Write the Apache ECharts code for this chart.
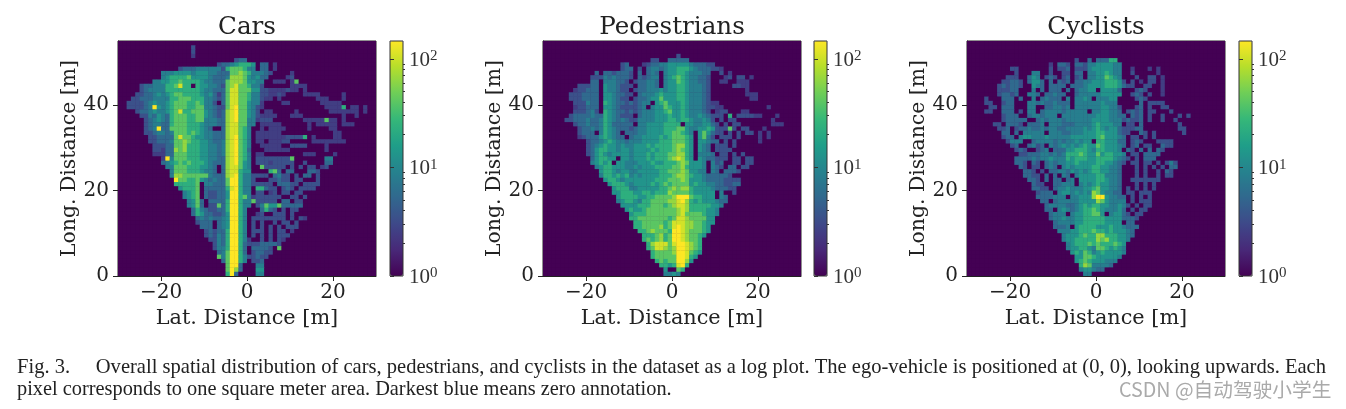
<!DOCTYPE html>
<html><head><meta charset="utf-8">
<style>html,body{margin:0;padding:0;background:#fff}#c{width:1346px;height:409px}</style>
<script src="https://cdn.jsdelivr.net/npm/echarts@6/dist/echarts.min.js"></script>
</head><body><div id="c"></div>
<script>
// Each row is one metre of longitudinal distance, top (54 m) to bottom (0 m).
// "col:levels": starting at lateral column col, one level character per cell ('.'=0 annotations).
const levelCounts = [1,1.5,2.5,3.5,5.5,8.5,13,23,40,65,105,146];
const latTicks = [-20,0,20];
const longTicks = [0,20,40];
const colorbarMajor = [1,10,100];
const colorbarMinor = [2,3,4,5,6,7,8,9,20,30,40,50,60,70,80,90];
const panelTitles = ["Cars","Pedestrians","Cyclists"];
const carsRows = [
"",
"17:3","17:3","17:2","27:344",
"23:344567776 33:44 36:2",
"14:3444555555 24:3445 25:78887 30:55 33:44 36:2",
"10:55566665666 21:5544 25:4 26:88987 31:55 33:543 40:2",
"10:5677778 17:66665 22:4445 26:99986 31:5 32:644 39:23",
"8:55 10:667787 16:77765 21:5444 25:8999866 32:55 36:222 40:2 41:8",
"5:34 7:45 9:55 11:7787 15:77 18:7665 22:54 24:3 25:89a8875 32:5 33:3 40:2222 14:a",
"5:345 8:55 10:5 11:77777 16:7776 20:55 22:44 24:4 25:8aa88866 33:33222 38:2322 43:2",
"4:3344 8:56 10:56 12:7887 16:7776 20:56 22:4 23:2 24:4 25:8aa88755 33:3322 37:32 43:2222 52:2",
"3:3 4:344 7:4 8:55 10:5 11:5 12:778 15:8877 19:75 21:54 23:3 24:4 25:8aa8875 32:5 33:322 37:2 46:222 52:2",
"2:33 4:33 6:45 8:65 10:5 11:6788 15:8778 19:75 21:5 22:3 23:. 24:4 25:8aa8865 32:5 33:2 38:22 47:22222",
"2:33 4:3 5:3 6:4 7:5 8:b 9:6 10:5 11:67 13:88 15:8778 19:85 21:54 23:3 24:3 25:8ab8865 32:3 33:2 48:22227 54:22 57:2",
"4:3 5:4 6:45 8:65 10:5 11:67 13:8 14:a 15:7788 19:86 21:54 23:3 24:4 25:9ab8865 32:3 34:22 41:2 49:2222 53:222 57:2",
"5:33 7:54 9:6 10:54 12:78 14:88 16:778 19:86 21:54 23:3 24:4 25:9ab8865 32:3 33:222 36:2 40:222 52:2 55:2",
"6:34 8:5 9:6 10:54 12:78 14:88 16:778 19:85 21:55 23:4 24:4 25:9ab8855 32:2 33:333 43:2222 47:2 48:8 49:2 50:2 52:2",
"6:34 8:55 10:44 12:78 14:88 16:7776 20:55 22:5 23:4 24:4 25:9aa8855 33:222 35:222 44:2 46:22 48:222 52:222",
"6:34 8:5 9:b 10:44 12:88 14:88 16:7776 20:5 21:4 24:4 25:9aa875 33:2 35:2222 44:2 49:22",
"6:334 9:55 11:45 13:88 15:878 18:765 21:5 22:4 23:4 24:4 25:9aa875 32:222222 50:22",
"7:33 9:44 11:4 12:4 13:88 14:a 15:887 18:665 21:54 23:44 25:9ab875 32:2222222 39:33337 45:2 50:22",
"7:33 9:4 10:4 11:4 12:5 13:889 16:877 19:66 21:5 22:4 23:45 25:9ab875 32:22 35:222 38:3 39:3 45:22222222",
"8:33 10:3 11:44 13:889 16:777 19:66 21:5 22:5 23:4 24:5 25:9ab875 33:22222 40:3333 48:2",
"8:33 10:2 11:44 13:989 16:7776 20:6 21:5 22:54 24:5 25:9ab874 34:222222 48:2",
"8:2 9:2 10:2 11:4 12:4 13:88 15:87 17:776 20:6 21:55 23:4 24:5 25:9ab875 32:22 43:2 44:22 50:2",
"10:2 11:b 12:5 13:88 15:87 17:776 20:65 22:5 23:4 24:4 25:9ab875 32:3333333 39:3 40:8 48:55",
"10:45 12:67 14:87 16:877 19:765 22:44 24:4 25:9ab865 32:3 33:33233 38:333 43:3 48:4 49:4",
"11:55 13:88 15:87 17:77 19:665 22:4 24:4 25:9aa865 33:8 34:3 35:3333 40:3 42:3 44:33 47:2 48:3",
"12:5 13:888 16:77 18:7 19:65 21:5 22:4 24:4 25:9aa766 35:78 37:4 39:44 44:4 45:4 46:3",
"12:5 13:99 15:88 17:8 18:8 19:88 21:5 22:4 23:4 24:4 25:9ab755 31:3 32:3 33:3 34:3 36:4 37:5 38:3 39:3 41:3 43:44 46:3",
"13:b 14:88 16:7 17:7 18:8 19:65 21:4 22:5 23:4 24:4 25:8bb755 31:3 35:3 36:3 37:4 38:3 39:3 41:33 46:3",
"13:77 15:7 16:7 17:7 18:8 20:5 21:5 22:4 23:4 24:4 25:8bb755 31:3 32:3 33:33 35:3 37:444 40:3 41:3 43:333 46:3",
"14:67 16:7 17:7 18:8 20:4 21:4 22:4 23:4 24:4 25:7ab755 32:77 34:4 35:3 36:3 38:34 40:3 42:3 43:333",
"15:56 17:7 18:8 20:4 21:3 22:3 23:4 24:4 25:6bb755 32:3 33:3 35:2 36:3 38:3 39:3 41:3 42:3",
"15:5 16:6 17:7 18:8 20:4 21:3 22:3 23:4 24:4 25:6bb755 29:8 31:2 32:33 34:333 36:3 37:3 40:3 41:3 43:3",
"16:5 17:6 18:8 19:4 21:4 22:4 23:4 24:4 25:7bb755 31:8 32:3 33:3 34:3 35:3 36:3 38:4 39:4 41:3 42:3",
"16:5 17:6 18:8 19:4 21:3 22:3 23:8 24:4 25:7bb755 32:3 33:5 34:8 35:6 36:6 37:8 38:4 39:44 41:4 42:4",
"17:4 18:7 19:5 20:4 21:3 22:3 23:4 24:4 25:7bb75 33:4 34:7 35:4 36:3 38:3 40:3 41:3",
"17:4 18:7 19:6 20:4 21:4 22:3 23:3 24:4 25:6bb75 32:2 33:3 36:3 37:3 38:3 40:3",
"18:4 19:5 20:4 21:5 22:4 23:4 24:5 25:6bb75 31:3 32:3 33:3 34:3 35:3 36:3 37:3 38:3 40:3 42:3 43:2",
"18:3 19:4 20:4 21:4 23:4 24:5 25:6bb75 31:3 33:3 36:3 38:3 39:3 41:3",
"19:4 20:4 21:4 23:4 24:5 25:6bb75 31:3 33:3 35:3 37:3 39:3 40:3 41:3",
"20:3 21:4 22:3 23:4 24:4 25:7bb75 31:3 32:3 33:3 35:3 37:3 38:3 40:2",
"20:3 21:4 22:3 23:5 24:4 25:7bb75 31:3 33:3 35:3 37:3 38:3 39:3",
"21:3 22:3 23:5 24:4 25:7bb75 30:2 33:3 35:3 37:3 38:2",
"22:3 23:5 24:4 25:7bb74 30:3 31:3 32:3 33:4 34:4 35:4 36:4 37:3",
"22:3 23:5 24:5 25:7bb74 31:4 32:4 33:4 34:4 35:3 37:8",
"23:4 24:5 25:8bb74 31:3 32:4 33:4 34:3 35:3",
"23:8 24:5 25:8bb75 30:3 31:3 32:4 33:3 34:3",
"24:4 25:8bb75 31:3 32:3 33:4",
"25:8bb4 32:5 33:5",
"25:8b94 32:66",
"25:7b 27:4 32:55"
];
const pedestriansRows = [
"","","",
"31:3",
"25:33 29:44444",
"18:34 23:23445566666544433",
"18:344 22:3 24:45 26:5 27:4 28:5 29:66777 34:6 35:5 36:4 37:4 38:4 39:3 40:3 41:2",
"12:4 14:44 16:34 18:44 20:3 22:4 24:4 25:5 26:4 28:5 29:6 30:6 31:7 32:7 33:6 34:5 35:5 36:5 37:4 38:4 41:3 43:2",
"11:33 13:3 14:5 15:4 16:5 17:44 19:4 20:3 22:4 23:3 24:4 25:5 26:5 28:5 29:6 30:7 31:8 32:7 33:6 34:5 35:5 36:4 37:4 38:3 42:23 45:33 48:2",
"11:44 14:5 15:5 16:5 17:4 18:4 19:3 21:3 22:4 23:4 24:5 25:5 26:4 28:5 29:6 30:6 31:8 32:7 33:6 34:5 35:5 36:4 37:4 38:3 41:2 42:2 45:2 46:2 47:2",
"8:3 9:3 10:3 11:4 12:4 14:6 15:5 16:5 17:4 18:3 19:3 20:3 22:4 23:4 24:5 25:5 26:4 28:5 29:6 30:6 31:7 32:7 33:6 34:5 35:5 36:5 37:4 38:3 44:33 46:2 47:2",
"7:2 8:3 9:3 10:4 11:4 12:4 14:6 15:5 16:5 17:4 18:3 19:3 21:3 22:4 23:4 24:5 25:5 26:5 27:6 28:5 29:6 30:6 31:7 32:7 33:6 34:5 35:5 36:5 37:4 38:3 47:2",
"6:3334444 14:66544 19:33 22:45 24:556 27:7 28:6 29:66 31:7 32:7 33:6 34:55 36:54 38:3 47:222",
"6:3334444 14:66543 19:3 21:3 22:44 24:566 27:8 28:6 29:66 31:7 32:7 33:6 34:55 36:54 38:3 48:22",
"7:3335 11:44 14:76544 19:34 21:3 22:45 24:5.6 27:7 28:8 29:6 30:66 32:76 34:55 36:54 38:3 39:2 40:2",
"7:23344 12:4 14:6654 18:3 19:3 20:33 22:45 24:.56 27:6 28:8 29:7 30:66 32:76 34:55 36:54 38:3 39:3 40:22 52:2",
"7:33345 12:3 14:76544 19:34 21:3 22:45 24:556 27:6 28:7 29:8 30:66 32:76 34:55 36:54 38:3 40:233 46:22",
"6:3 7:4 8:44 10:45 12:44 14:76 16:54 18:33 20:3 22:4 23:5 24:55 26:66 28:6 29:7 30:66 32:76 34:55 36:65 38:4 39:3 40:3 41:3 43:7 45:33 47:3 48:3 49:2 50:2 54:2",
"5:33444544 13:57654 18:54 20:33 22:5555 26:66677 31:677 34:6556 38:53 41:3 43:33 53:2",
"7:3445 11:44 13:5 14:76 16:4 17:44 19:4 20:4 22:5566 26:6677 30:7 31:7 33:66 35:5 36:5 37:6 38:6 39:4 40:3 42:3 44:33 53:222",
"8:3445 12:4 13:5 14:76 16:5 17:4 18:44 20:3 21:4 22:5566 26:667 29:77 31:88 33:6 34:5 35:5 36:6 37:6 38:7 39:6 40:3 41:3 42:3 43:8 44:3 46:33 51:2",
"8:344 11:4 13:5 14:7 15:6 16:5 17:4 19:44 21:4 22:5566 26:66 28:77 30:88 32:7 33:6 34:5 36:6 37:8 38:6 39:4 40:3 41:3 43:3 45:3 47:33 50:2 52:2",
"8:2 9:34 11:44 13:6 14:7 15:6 16:5 17:4 18:4 20:4 21:5 22:56 24:66 26:67 28:67 30:88 32:8 33:7 34:6 36:6 37:8 38:5 39:3 41:3 42:33 45:3 50:2 52:2",
"10:34 12:4 13:5 14:6 15:7 16:6 17:5 18:5 19:4 20:5 21:5 22:56 24:66 26:67 28:7 29:7 30:88 32:8 33:7 34:6 36:6 37:6 38:5 39:4 40:4 42:3 44:3 50:2",
"10:34 12:5 13:6 14:7 15:6 16:6 17:5 18:6 19:5 20:5 21:6 22:66 24:76 26:77 28:7 29:7 30:89 32:9 33:7 34:6 36:6 37:5 38:4 40:3 41:33 44:3",
"10:3 11:4 12:6 13:7 14:7 15:6 16:6 17:5 18:6 19:6 20:5 21:6 22:66 24:67 26:67 28:7 29:7 30:89 32:8 33:7 34:6 36:6 37:5 38:4 40:3 41:3 42:3 43:3",
"10:3 11:4 12:6 13:7 14:6 15:5 16:6 17:6 18:6 19:6 20:5 21:6 22:66 24:76 26:77 28:7 29:8 30:89 32:9 33:7 34:6 36:5 37:5 38:5 39:4 41:3 42:3 44:3 46:3",
"11:4 12:6 13:7 14:7 15:6 16:6 18:6 19:6 20:5 21:6 22:66 24:76 26:77 28:7 29:8 30:9a 32:9 33:7 34:6 36:6 37:5 38:4 39:4 40:3 41:3 42:3 44:33 47:33",
"11:5676 15:7.66 19:555666 25:766 28:77 30:78 32:98 34:666 37:5.5 40:34 44:33 47:33",
"12:5677 16:666 19:5565 23:666 26:77 28:77 30:88 32:97 34:66 36:65 38:.5 40:43 43:44 46:33",
"13:677 16:6566 20:556 23:666 26:67 28:78 30:88 32:98 34:66 36:55 38:.5 40:4 42:444 45:3",
"13:5 14:77 16:6767 20:565 23:66 25:667 28:77 30:89 32:98 34:76 36:65 38:44 40:4 41:44 43:3",
"14:677 17:6566 21:66 23:666 26:777 29:8 30:88 32:98 34:66 36:65 38:44 40:44 42:333 45:3",
"15:677 18:76 20:56 22:666 25:767 28:87 30:88 32:88 34:67 36:66 38:55 40:44 42:33 44:44",
"16:67 18:77 20:55 22:66 24:666 27:77 29:8 30:98 32:99 34:76 36:66 38:65 40:4 41:4 42:4 43:3 44:3",
"16:6 17:67 19:77 21:66 23:77 25:67 27:77 29:9 30:88 32:88 34:76 36:66 38:66 41:5 44:3",
"17:6 18:7 19:77 21:7 22:6 23:67 25:78 27:88 29:8 30:9 31:bbb 34:87 36:76 38:66 41:5 42:4",
"17:5 18:6 19:77 21:6 22:5 23:77 25:88 27:88 29:9 30:9 31:ab 33:9 34:76 36:76 38:66 40:5 41:4 42:4",
"18:6 19:6 20:6 21:6 22:7 23:77 25:88 27:87 29:8 30:9a 32:a 33:9 34:77 36:77 38:76 40:6 41:5",
"19:67 21:66 23:78 25:88 27:88 29:8 30:89 32:a 33:9 34:77 36:77 38:66 40:5",
"20:67 22:77 24:88 26:88 28:88 30:89 32:a 33:8 34:88 36:87 38:66 40:5",
"20:7 21:7 22:88 24:88 26:88 28:87 30:88 31:a 32:a 33:9 34:88 36:88 38:66",
"21:77 23:88 25:88 27:87 29:8 30:a 31:a 32:a 33:9 34:98 36:87 38:66",
"21:7 22:7 23:88 25:88 27:97 29:8 30:a 31:b 32:a 33:9 34:98 36:87 38:6",
"22:77 24:8 25:9 26:88 28:87 30:b 31:b 32:a 33:9 34:88 36:87 38:6",
"23:77 25:78 27:97 29:8 30:b 31:b 32:a 33:9 34:88 36:76",
"23:78 25:7 26:8 27:97 29:8 30:bb 32:a 33:9 34:88 36:7",
"24:7 25:9 26:aa 28:a8 30:ab 32:b 33:a 34:98 36:7",
"24:78 26:aa 28:98 30:9b 32:b 33:a 34:98 36:7",
"25:78 27:88 29:8 30:9 31:bb 33:a 34:8 35:7 36:6",
"25:7 26:8 27:8 28:8 29:8 30:8 31:bb 33:a 34:7 35:6",
"26:78 28:78 30:8 31:b 32:b 33:9 34:6",
"27:7 28:7 29:6 30:7 31:a 32:b 33:7",
"28:6 31:8 32:7",
"28:5 29:5 30:6 31:5"
];
const cyclistsRows = [
"","","","",
"25:3 28:4 30:44 32:4 33:77",
"19:2 21:44 23:3 25:44 27:3 28:5 29:5 30:66 32:66 34:55",
"10:3 11:3 19:3 21:33 23:4 25:33 27:3 28:5 29:6 30:66 32:66 34:55 38:2 42:2 44:2",
"11:3 15:5 16:5 19:3 22:3 23:3 25:44 28:5 29:5 30:66 32:76 34:55 38:3 44:2",
"9:3 10:3 11:3 14:4 15:6 16:5 18:3 19:4 20:3 22:3 23:4 25:3 26:4 28:5 29:5 30:66 32:87 34:65 39:3 42:3 43:3 45:2",
"8:3 9:3 10:44 12:3 14:4 15:6 16:6 17:4 19:4 21:4 22:3 23:4 25:4 26:4 27:5 28:5 29:6 30:66 32:77 34:76 36:3 38:3 40:2 42:3 43:3 45:2",
"7:3 8:4 9:3 10:44 12:3 15:6 16:5 17:4 19:4 20:4 21:4 22:4 24:4 25:44 27:5 28:6 29:6 30:6 31:6 32:7 33:7 34:7 35:6 36:4 37:3 38:3 41:3 42:3 45:2",
"7:33 9:3 10:4 11:4 15:5 17:4 19:4 20:44 23:4 25:45 27:5 28:6 29:6 31:6 32:6 33:6 34:6 35:4 39:3 40:4 41:3 45:2",
"7:3 8:4 9:4 10:3 11:4 14:5 15:5 16:4 18:4 19:4 20:5 21:4 22:4 25:4 26:5 27:55 29:5 30:5 31:6 32:6 33:6 34:6 35:6 38:3 39:4 40:3 42:3 45:2",
"4:3 8:4 9:4 10:4 12:4 15:5 17:4 18:5 19:4 20:4 21:4 23:5 25:5 26:5 27:6 28:5 30:5 31:5 32:5 33:6 34:6 39:3 40:4 41:3",
"4:3 5:3 8:3 9:4 10:4 14:5 15:5 16:4 17:5 18:4 19:4 20:5 21:4 22:4 23:4 25:5 26:5 27:5 28:5 29:5 30:5 31:6 32:5 33:5 34:5 40:4 42:3 43:3 44:3 45:3",
"5:3 6:3 8:4 9:4 10:4 14:5 15:5 18:4 19:4 20:5 21:5 22:4 23:5 25:5 26:5 27:5 28:5 29:5 30:5 31:6 32:6 33:5 34:5 35:3 39:3 40:4 42:3 45:3 46:3",
"4:3 5:3 8:4 9:4 10:4 12:3 14:5 15:5 17:4 18:5 19:5 20:5 21:5 22:4 23:5 24:5 25:5 26:5 27:5 29:5 30:5 31:6 32:6 33:5 34:5 35:4 37:3 38:4 39:3 40:4 42:3 43:3 47:3",
"8:3 9:4 10:4 11:4 14:4 15:5 16:5 17:4 18:5 19:5 20:5 22:5 23:5 24:5 25:5 26:5 27:5 28:5 29:5 30:6 31:6 32:6 33:5 34:5 35:4 36:4 38:4 39:3 40:4 42:3 45:3 49:3 51:3",
"8:3 9:4 10:4 11:4 12:4 13:4 16:4 17:5 18:4 19:5 20:5 21:5 22:4 23:5 24:5 25:5 26:5 27:5 28:5 29:6 30:6 31:6 32:6 33:5 34:5 35:5 36:3 37:4 38:3 39:3 40:4 42:3 45:3 48:3",
"6:3 7:3 9:4 10:4 11:4 12:3 14:4 15:4 16:4 17:5 19:5 20:5 21:5 22:4 23:4 24:4 25:5 26:5 27:5 28:5 29:6 30:7 31:6 32:6 33:6 34:5 35:5 37:3 38:3 40:4 49:3",
"7:3 8:3 9:4 11:3 12:4 13:4 14:5 15:4 16:4 17:5 18:4 19:5 20:5 21:4 22:4 23:5 24:5 25:5 26:5 27:6 28:5 29:6 30:7 31:6 32:5 33:6 34:6 35:4 36:3 37:3 38:3 39:4 40:4 49:3 50:3",
"8:4 9:4 11:4 13:5555 17:5 19:555 22:44 24:55 26:566 29:6 30:7 31:7 32:6 33:6 34:6 35:4 36:3 37:3 40:4 41:3 43:3 50:3",
"8:3 9:4 10:4 12:5 13:66 15:55 17:5 18:6 19:55 21:5 22:5 23:5 24:6 25:6 26:6 27:6 28:6 29:6 30:7 31:8 32:6 33:6 34:6 35:5 36:4 38:3 39:3 41:3 43:3",
"9:3 10:5 11:5 12:5 15:4 16:5 17:55 19:5 20:4 21:5 22:4 23:5 24:5 25:6 26:5 27:6 28:6 30:7 31:7 32:6 33:6 34:6 35:4 36:4 38:3 39:4 40:3 44:3 45:3 46:3 47:3",
"10:3 11:4 14:4 15:5 16:3 17:4 19:5 20:4 21:5 22:6 23:5 24:6 25:5 26:6 27:7 28:6 29:6 30:8 31:7 32:6 33:6 34:6 35:5 36:4 38:3 39:4 41:3 42:3 45:4 46:3 47:3",
"11:3 12:4 13:3 16:3 17:4 18:5 20:4 21:4 22:4 23:6 24:6 25:7 26:7 27:7 28:6 29:5 30:7 31:7 32:6 33:6 34:6 35:5 37:4 38:3 40:4 42:4 44:4 45:3",
"12:3 13:3 14:4 15:4 16:4 17:5 18:5 19:4 20:5 21:4 22:5 23:7 24:7 25:7 26:8 27:7 28:6 29:6 30:8 31:6 32:7 33:7 34:6 35:6 36:5 38:3 39:3 41:4 42:4 43:4 44:4",
"11:4 12:4 13:4 14:4 15:5 16:4 17:5 18:5 19:6 20:5 21:5 22:5 23:7 24:6 25:7 26:7 27:7 28:6 29:6 30:7 31:7 32:7 33:7 34:6 35:5 36:4 37:3 39:3 41:4 42:4 43:4",
"11:4 12:4 13:3 15:4 16:3 18:4 19:5 20:4 21:5 22:5 23:6 24:6 25:7 26:6 27:6 28:6 29:6 30:7 31:7 32:6 33:6 34:5 35:4 36:3 38:3 39:3 41:3 42:3 44:3 46:3 47:5 48:3",
"12:4 13:3 15:3 16:3 18:4 19:5 20:4 22:5 23:6 24:5 25:6 26:6 27:6 28:6 29:7 30:7 31:6 32:6 33:5 34:5 35:4 39:3 41:3 43:3 45:3 47:4 48:4",
"13:4 14:4 15:3 17:3 19:4 20:4 21:5 22:5 23:4 24:6 25:5 26:6 27:5 28:6 29:7 30:7 31:6 32:6 33:5 34:5 35:4 39:3 41:3 44:3 46:4 47:3",
"13:4 14:4 15:3 16:3 18:4 20:4 22:5 23:4 25:5 26:6 27:6 28:6 29:6 30:7 31:7 32:5 33:5 34:5 35:4 39:3 41:3 44:3 46:3 47:3",
"14:4 15:4 16:3 18:4 20:4 21:4 23:4 24:5 26:6 27:6 28:6 29:6 30:7 31:7 32:6 33:5 34:5 35:4 38:3 39:3 40:3 41:3 42:3 43:3 44:3",
"15:4 16:3 17:3 20:4 21:4 22:5 23:5 24:5 26:5 27:6 28:5 29:6 30:7 31:6 32:6 33:5 34:5 35:4 39:3 41:3 43:3",
"15:4 16:4 17:3 18:3 20:4 21:5 22:5 23:6 24:5 25:5 26:5 27:6 28:6 29:7 30:8 31:6 32:6 33:5 34:5 35:4 37:3 39:3 41:3 43:3",
"16:3 17:4 18:4 19:4 21:5 22:6 23:6 24:5 25:6 26:5 27:6 28:5 29:9 30:8 31:6 32:5 33:5 34:4 35:4 37:3 38:3 40:3 41:3 42:3",
"16:4 17:4 18:4 19:4 20:5 21:5 22:5 24:5 25:5 26:6 27:6 28:6 29:9 30:b 31:b 32:6 33:5 34:5 35:4 36:4 38:3 40:3 42:3",
"17:4 18:4 20:4 21:5 22:5 23:5 24:5 25:5 26:6 27:6 28:6 29:6 30:9 31:8 32:6 33:5 34:5 35:5 36:5 38:3 40:3 41:3 42:3",
"18:4 19:5 20:5 21:5 22:5 23:4 24:4 25:5 26:6 27:7 28:6 29:7 30:7 31:6 32:6 33:5 34:5 35:6 36:5 37:3 39:3 41:3 42:3",
"18:4 19:4 21:5 22:6 23:5 24:4 25:5 26:6 27:7 28:7 29:8 30:7 31:6 32:5 33:5 34:5 35:6 36:4 38:3 40:3 41:3",
"19:4 20:5 21:5 22:5 24:5 25:6 26:6 27:7 28:7 29:8 30:8 31:6 33:5 34:6 35:6 36:4 37:3 39:3 40:3",
"19:4 20:5 21:5 22:6 23:5 24:5 25:6 26:6 27:7 28:7 29:7 30:7 31:7 32:6 33:6 34:6 35:6 36:4 37:4 38:4 39:3",
"20:4 21:5 22:5 23:5 24:5 25:6 26:6 27:7 28:7 29:7 30:7 31:7 32:6 33:6 34:6 35:6 37:4 38:4",
"20:4 21:4 22:4 23:5 25:6 26:7 27:7 28:7 29:7 30:6 31:6 32:6 33:7 34:6 35:6 36:5 37:4 38:4 39:4",
"21:5 22:5 23:5 24:6 25:6 26:7 27:7 28:7 29:8 30:7 31:7 32:6 33:7 34:6 35:6 36:6 37:5 38:4",
"22:5 23:6 24:6 25:6 26:7 27:8 28:7 29:7 30:9 31:9 32:7 33:7 34:7 35:6 36:6 37:5 38:4",
"22:5 23:6 24:6 25:7 26:7 27:7 28:7 29:7 30:9 31:8 32:9 33:7 34:7 35:6 36:6 37:5",
"23:5 24:6 25:7 26:7 27:7 28:8 29:7 30:8 31:7 32:7 33:7 34:8 35:7 36:6",
"23:5 24:6 25:6 26:7 27:7 28:6 29:5 30:8 31:8 32:7 33:6 34:7 35:6 36:5",
"24:6 25:7 26:6 27:8 28:7 29:5 30:6 31:7 32:6 33:6 34:6 35:6 36:5",
"25:6 26:6 27:8 28:8 29:7 30:6 31:6 32:6 33:6 34:6 35:5",
"25:6 26:7 27:8 28:7 29:6 30:6 31:6 32:5 33:5 34:5",
"26:7 27:9 28:8 29:5 30:5 31:5 32:5 33:4",
"26:5 27:6 28:6 29:5 30:4 31:4",
"27:5 28:5"
];

const viridis = ['#440154','#482878','#3e4989','#31688e','#26828e','#1f9e89','#35b779','#6ece58','#b5de2b','#fde725'];
const FONT = 'DejaVu Serif';
const INK = '#222';
const COLS = 60, ROWS = 55;
const LOGMAX = Math.log10(levelCounts[levelCounts.length-1]);

function rowsToCells(rows){
  const grid = [];
  for(let r=0;r<ROWS;r++){
    const line = new Array(COLS).fill(0);
    (rows[r]||'').split(' ').filter(Boolean).forEach(seg=>{
      const [c,s] = seg.split(':');
      [...s].forEach((ch,i)=>{ line[+c+i] = ch==='.'?0:parseInt(ch,16); });
    });
    grid.push(line);
  }
  const out = [];
  grid.forEach((line,r)=>line.forEach((lv,c)=>{
    out.push([c-30, ROWS-1-r, Math.log10(levelCounts[lv])]);
  }));
  return out;
}
const panelData = [carsRows,pedestriansRows,cyclistsRows].map(rowsToCells);
const plotLeft = [118,543,967];
const barLeft = [390,814,1239];
const PW=258, PTOP=41, PH=235, BW=13;

const grid=[],xAxis=[],yAxis=[],series=[],visualMap=[],title=[];
const signed = v=>String(v).replace('-','\u2212');
panelData.forEach((cells,i)=>{
  grid.push({left:plotLeft[i],top:PTOP,width:PW,height:PH,show:true,backgroundColor:'#440154',borderColor:INK,borderWidth:1,z:1});
  xAxis.push({gridIndex:i,type:'value',min:-30,max:30,splitLine:{show:false},
    axisLine:{show:true,onZero:false,lineStyle:{color:INK}},
    axisTick:{show:true,length:5,lineStyle:{color:INK},customValues:latTicks},
    axisLabel:{fontFamily:FONT,fontSize:20,color:INK,margin:7,customValues:latTicks,formatter:signed},
    name:'Lat. Distance [m]',nameLocation:'middle',nameGap:31,nameTextStyle:{fontFamily:FONT,fontSize:20.8,color:INK}});
  yAxis.push({gridIndex:i,type:'value',min:0,max:55,splitLine:{show:false},
    axisLine:{show:true,onZero:false,lineStyle:{color:INK}},
    axisTick:{show:true,length:5,lineStyle:{color:INK},customValues:longTicks},
    axisLabel:{fontFamily:FONT,fontSize:20,color:INK,margin:9,customValues:longTicks},
    name:'Long. Distance [m]',nameLocation:'middle',nameGap:38,nameTextStyle:{fontFamily:FONT,fontSize:20.4,color:INK}});
  series.push({type:'custom',name:panelTitles[i],xAxisIndex:i,yAxisIndex:i,coordinateSystem:'cartesian2d',
    data:cells,animation:false,progressive:0,silent:true,clip:true,encode:{x:0,y:1},
    renderItem:(p,api)=>{
      const a=api.coord([api.value(0),api.value(1)+1]);
      const s=api.size([1,1]);
      return {type:'rect',shape:{x:a[0],y:a[1],width:s[0]+0.4,height:s[1]+0.4},style:{fill:api.visual('color')}};
    }});
  visualMap.push({type:'continuous',seriesIndex:i,dimension:2,min:0,max:LOGMAX,calculable:false,hoverLink:false,
    left:barLeft[i],top:PTOP,itemWidth:BW,itemHeight:PH,padding:0,text:null,showLabel:false,
    inRange:{color:viridis},z:2});
  title.push({text:panelTitles[i],left:plotLeft[i]+PW/2,top:15,textAlign:'center',padding:0,
    textStyle:{fontFamily:FONT,fontSize:24.6,fontWeight:'normal',color:INK}});
});
// colour bars: log axes
[0,1,2].forEach(i=>{
  const g=grid.length;
  grid.push({left:barLeft[i],top:PTOP,width:BW,height:PH,show:true,backgroundColor:'transparent',borderColor:'#333',borderWidth:1,z:6});
  xAxis.push({gridIndex:g,type:'value',show:false,min:0,max:1});
  const base={gridIndex:g,type:'log',logBase:10,min:1,max:levelCounts[levelCounts.length-1],position:'right',splitLine:{show:false},axisLine:{show:false},z:6};
  yAxis.push(Object.assign({},base,{
    axisTick:{show:true,length:4,lineStyle:{color:'#333'},customValues:colorbarMajor},
    axisLabel:{customValues:colorbarMajor,margin:6,padding:[3,0,0,0],
      formatter:v=>`{b|10}{s|${Math.round(Math.log10(v))}}`,
      rich:{b:{fontFamily:'Liberation Serif',fontSize:21,color:'#333',lineHeight:22},
            s:{fontFamily:'Liberation Serif',fontSize:15,color:'#333',verticalAlign:'top',padding:[0,0,8,0]}}}}));
  yAxis.push(Object.assign({},base,{
    axisTick:{show:true,length:2,lineStyle:{color:'#333'},customValues:colorbarMinor},
    axisLabel:{show:false}}));
});
title.push({text:'Fig. 3.     Overall spatial distribution of cars, pedestrians, and cyclists in the dataset as a log plot. The ego-vehicle is positioned at (0, 0), looking upwards. Each',
  left:17,top:357,padding:0,textStyle:{fontFamily:'Liberation Serif',fontSize:20.55,fontWeight:'normal',color:'#222'}});
title.push({text:'pixel corresponds to one square meter area. Darkest blue means zero annotation.',
  left:17,top:380,padding:0,textStyle:{fontFamily:'Liberation Serif',fontSize:20.35,fontWeight:'normal',color:'#222'}});
title.push({text:'CSDN @自动驾驶小学生',left:1119,top:380,padding:0,textStyle:{fontFamily:'Noto Sans CJK SC',fontSize:19.7,fontWeight:'normal',color:'#aaa'}});

const chart=echarts.init(document.getElementById('c'),null,{renderer:'canvas'});
chart.setOption({animation:false,backgroundColor:'#fff',title,grid,xAxis,yAxis,series,visualMap,tooltip:{show:false}});
</script></body></html>
